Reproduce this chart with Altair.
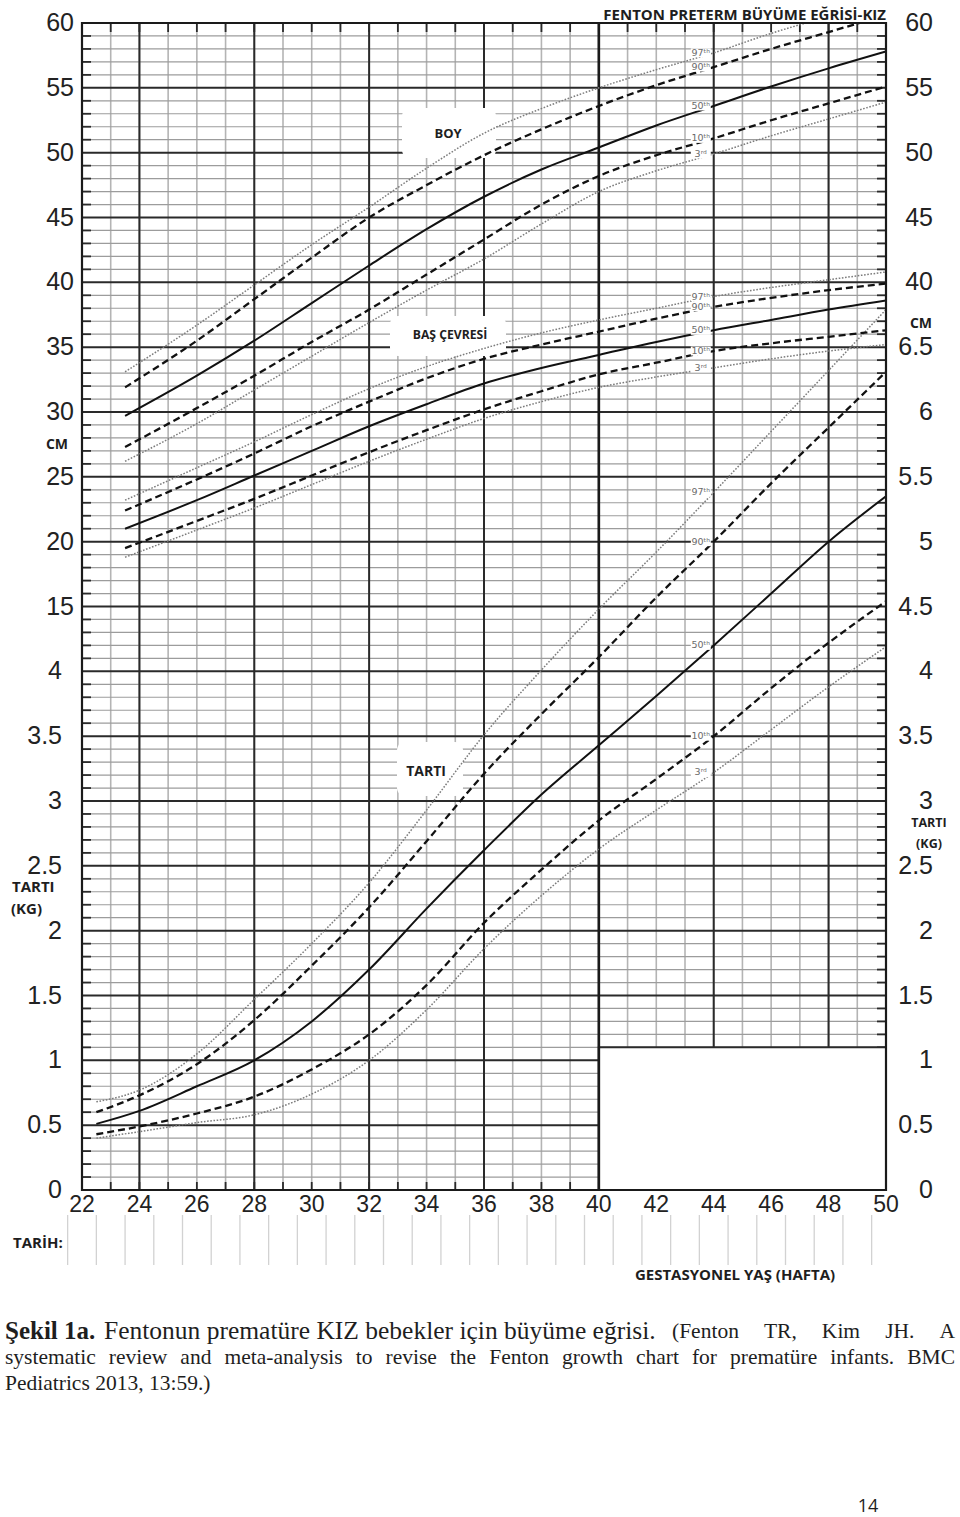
import altair as alt
import pandas as pd

# ---------------- data ----------------
weight_weeks = [22.5, 24, 26, 28, 30, 32, 34, 36, 38, 40, 42, 44, 46, 48, 50]
weight_p97 = [0.68, 0.77, 1.05, 1.47, 1.90, 2.37, 2.93, 3.51, 4.01, 4.48, 4.92, 5.38, 5.85, 6.32, 6.79]
weight_p90 = [0.60, 0.73, 0.97, 1.31, 1.73, 2.18, 2.69, 3.21, 3.67, 4.11, 4.57, 5.00, 5.45, 5.88, 6.31]
weight_p50 = [0.51, 0.61, 0.80, 1.00, 1.30, 1.70, 2.17, 2.62, 3.05, 3.43, 3.81, 4.20, 4.60, 5.00, 5.35]
weight_p10 = [0.43, 0.49, 0.59, 0.72, 0.93, 1.20, 1.58, 2.06, 2.47, 2.85, 3.17, 3.50, 3.87, 4.22, 4.54]
weight_p3 = [0.40, 0.45, 0.52, 0.58, 0.74, 1.00, 1.39, 1.86, 2.27, 2.63, 2.93, 3.22, 3.55, 3.88, 4.19]

length_weeks = [23.5, 26, 28, 30, 32, 34, 36, 38, 40, 42, 44, 46, 48, 50]
length_p97 = [33.1, 36.7, 39.8, 42.9, 45.8, 48.8, 51.5, 53.4, 55.0, 56.4, 57.7, 59.2, 60.5, 61.7]
length_p90 = [31.9, 35.5, 38.7, 41.9, 45.0, 47.5, 49.8, 51.8, 53.6, 55.2, 56.6, 58.0, 59.3, 60.6]
length_p50 = [29.7, 32.8, 35.5, 38.4, 41.3, 44.1, 46.6, 48.7, 50.4, 52.1, 53.6, 55.1, 56.5, 57.8]
length_p10 = [27.3, 30.3, 32.8, 35.4, 37.9, 40.6, 43.3, 46.0, 48.2, 49.8, 51.1, 52.5, 53.8, 55.1]
length_p3 = [26.2, 29.1, 31.7, 34.3, 36.9, 39.4, 41.8, 44.5, 47.0, 48.6, 49.9, 51.3, 52.6, 53.9]

hc_weeks = [23.5, 26, 28, 30, 32, 34, 36, 38, 40, 42, 44, 46, 48, 50]
hc_p97 = [23.2, 25.7, 27.7, 29.8, 31.8, 33.5, 34.9, 36.1, 37.1, 38.0, 38.9, 39.6, 40.2, 40.8]
hc_p90 = [22.4, 24.8, 26.8, 28.9, 30.8, 32.6, 34.1, 35.2, 36.2, 37.2, 38.1, 38.8, 39.4, 39.9]
hc_p50 = [21.0, 23.2, 25.1, 27.0, 28.9, 30.6, 32.2, 33.4, 34.4, 35.4, 36.3, 37.1, 37.9, 38.6]
hc_p10 = [19.5, 21.6, 23.3, 25.1, 26.9, 28.6, 30.2, 31.6, 32.9, 33.8, 34.7, 35.3, 35.8, 36.3]
hc_p3 = [18.8, 20.9, 22.6, 24.4, 26.2, 27.9, 29.5, 30.8, 31.9, 32.7, 33.4, 34.1, 34.7, 35.2]

left_kg_labels = ["0", "0.5", "1", "1.5", "2", "2.5", "3", "3.5", "4"]
left_cm_labels = ["15", "20", "25", "30", "35", "40", "45", "50", "55", "60"]
right_tick_labels = ["0", "0.5", "1", "1.5", "2", "2.5", "3", "3.5", "4",
                     "4.5", "5", "5.5", "6", "6.5", "40", "45", "50", "55", "60"]
week_labels = [22, 24, 26, 28, 30, 32, 34, 36, 38, 40, 42, 44, 46, 48, 50]
pct_names = ["97", "90", "50", "10", "3"]
pct_texts = ["97ᵗʰ", "90ᵗʰ", "50ᵗʰ", "10ᵗʰ", "3ʳᵈ"]

caption_bold = "Şekil 1a."
caption_title = "Fentonun prematüre KIZ bebekler için büyüme eğrisi."
caption_ref1 = "(Fenton TR, Kim JH. A"
caption_line2 = "systematic review and meta-analysis to revise the Fenton growth chart for prematüre infants. BMC"
caption_line3 = "Pediatrics 2013, 13:59.)"

# ---------------- layout constants ----------------
W, H = 804, 1167
OX, OY = 82, 23


def rx(px):
    return px - OX


def ry(py):
    return py - OY


xs = alt.Scale(domain=[22, 50], nice=False, zero=False)
ys = alt.Scale(domain=[0, 18], nice=False, zero=False)

# ---------------- curve table ----------------
series = [
    ("weight", "kg", weight_weeks, [weight_p97, weight_p90, weight_p50, weight_p10, weight_p3]),
    ("length", "cm", length_weeks, [length_p97, length_p90, length_p50, length_p10, length_p3]),
    ("hc", "cm", hc_weeks, [hc_p97, hc_p90, hc_p50, hc_p10, hc_p3]),
]
rows = []
lab_rows = []
for meas, unit, wks, vals in series:
    for pname, ptxt, v in zip(pct_names, pct_texts, vals):
        for w, val in zip(wks, v):
            rows.append({"measure": meas, "unit": unit, "pct": pname, "week": w, "value": val})
        i44 = wks.index(44)
        lab_rows.append({"measure": meas, "unit": unit, "pct": pname, "label": ptxt,
                         "week": 43.55, "value": v[i44]})
curves = pd.DataFrame(rows)
plabels = pd.DataFrame(lab_rows)
POS = "datum.unit == 'kg' ? datum.value * 2 : datum.value / 5 + 6"

X = alt.X("week:Q", scale=xs, axis=None)
Y = alt.Y("pos:Q", scale=ys, axis=None)

layers = []

# ---------------- grid ----------------
all_weeks = list(range(22, 51))
major_weeks = [24, 28, 32, 36, 40, 44, 48]
major_idx = list(range(19))
minor_idx = [i / 5 for i in range(91) if i % 5]

layers.append(alt.Chart(pd.DataFrame({"w": all_weeks})).mark_rule(color="#b4b4b4", strokeWidth=1.6).encode(
    x=alt.X("w:Q", scale=xs, axis=None), y=alt.value(0), y2=alt.value(H)))
layers.append(alt.Chart(pd.DataFrame({"i": minor_idx})).mark_rule(color="#9c9c9c", strokeWidth=1.2).encode(
    y=alt.Y("i:Q", scale=ys, axis=None), x=alt.value(0), x2=alt.value(W)))
layers.append(alt.Chart(pd.DataFrame({"i": major_idx})).mark_rule(color="#2a2a2a", strokeWidth=2).encode(
    y=alt.Y("i:Q", scale=ys, axis=None), x=alt.value(0), x2=alt.value(W)))
layers.append(alt.Chart(pd.DataFrame({"w": major_weeks})).mark_rule(color="#2a2a2a", strokeWidth=2).encode(
    x=alt.X("w:Q", scale=xs, axis=None), y=alt.value(0), y2=alt.value(H)))

# inner ticks on the frame
tk = dict(color="#2a2a2a", strokeWidth=1.8)
layers.append(alt.Chart(pd.DataFrame({"i": minor_idx})).mark_rule(**tk).encode(
    y=alt.Y("i:Q", scale=ys, axis=None), x=alt.value(0), x2=alt.value(9)))
layers.append(alt.Chart(pd.DataFrame({"i": minor_idx})).mark_rule(**tk).encode(
    y=alt.Y("i:Q", scale=ys, axis=None), x=alt.value(W - 9), x2=alt.value(W)))
layers.append(alt.Chart(pd.DataFrame({"w": all_weeks})).mark_rule(**tk).encode(
    x=alt.X("w:Q", scale=xs, axis=None), y=alt.value(0), y2=alt.value(9)))
layers.append(alt.Chart(pd.DataFrame({"w": all_weeks})).mark_rule(**tk).encode(
    x=alt.X("w:Q", scale=xs, axis=None), y=alt.value(H - 8), y2=alt.value(H)))

# blank box, lower right
box = pd.DataFrame({"w1": [40], "w2": [50], "p1": [0], "p2": [2.2]})
layers.append(alt.Chart(box).mark_rect(fill="white", stroke="#2a2a2a", strokeWidth=2).encode(
    x=alt.X("w1:Q", scale=xs, axis=None), x2="w2:Q",
    y=alt.Y("p1:Q", scale=ys, axis=None), y2="p2:Q"))
layers.append(alt.Chart(pd.DataFrame({"w": [40]})).mark_rule(color="#1a1a1a", strokeWidth=2.6).encode(
    x=alt.X("w:Q", scale=xs, axis=None), y=alt.value(0), y2=alt.value(H)))


def white_box(x1, y1, x2, y2):
    return alt.Chart(pd.DataFrame({"a": [0]})).mark_rect(fill="white", cornerRadius=8).encode(
        x=alt.value(rx(x1)), x2=alt.value(rx(x2)), y=alt.value(ry(y1)), y2=alt.value(ry(y2)))


layers.append(white_box(402, 108, 496, 158))
layers.append(white_box(390, 316, 506, 356))
layers.append(white_box(397, 742, 463, 796))

# ---------------- curves ----------------
styles = {
    "97": dict(color="#7c7c7c", strokeWidth=1.5, strokeDash=[1.6, 1.6]),
    "90": dict(color="#111111", strokeWidth=2.3, strokeDash=[7, 4]),
    "50": dict(color="#111111", strokeWidth=2.0),
    "10": dict(color="#111111", strokeWidth=2.3, strokeDash=[7, 4]),
    "3": dict(color="#7c7c7c", strokeWidth=1.5, strokeDash=[1.6, 1.6]),
}
for p in pct_names:
    layers.append(
        alt.Chart(curves).transform_filter(f"datum.pct == '{p}'").transform_calculate(pos=POS)
        .mark_line(interpolate="monotone", clip=True, **styles[p])
        .encode(x=X, y=Y, detail="measure:N", order="week:Q"))

# percentile labels
layers.append(alt.Chart(plabels).transform_calculate(pos=POS).mark_point(
    shape="M-1,-0.45L1,-0.45L1,0.45L-1,0.45Z", filled=True, color="white", opacity=1, size=400).encode(x=X, y=Y))
layers.append(alt.Chart(plabels).transform_calculate(pos=POS).mark_text(
    fontSize=9.5, font="DejaVu Sans", color="#6a6a6a", align="center", baseline="middle").encode(
    x=X, y=Y, text="label:N"))

# frame
layers.append(alt.Chart(pd.DataFrame({"a": [0]})).mark_rect(fillOpacity=0, stroke="#1a1a1a", strokeWidth=2.2).encode(
    x=alt.value(0), x2=alt.value(W), y=alt.value(0), y2=alt.value(H)))

# ---------------- tick labels ----------------
lab_style = dict(fontSize=25, font="Liberation Sans", color="#222222", align="right", baseline="middle")
kdf = pd.DataFrame({"i": list(range(len(left_kg_labels))), "lab": left_kg_labels})
layers.append(alt.Chart(kdf).mark_text(**lab_style).encode(
    y=alt.Y("i:Q", scale=ys, axis=None), x=alt.value(rx(62)), text="lab:N"))
cdf = pd.DataFrame({"i": list(range(9, 9 + len(left_cm_labels))), "lab": left_cm_labels})
layers.append(alt.Chart(cdf).mark_text(**lab_style).encode(
    y=alt.Y("i:Q", scale=ys, axis=None), x=alt.value(rx(74)), text="lab:N"))
rdf = pd.DataFrame({"i": major_idx, "lab": right_tick_labels})
layers.append(alt.Chart(rdf).mark_text(**lab_style).encode(
    y=alt.Y("i:Q", scale=ys, axis=None), x=alt.value(rx(933)), text="lab:N"))
bdf = pd.DataFrame({"w": week_labels, "lab": [str(w) for w in week_labels]})
layers.append(alt.Chart(bdf).mark_text(fontSize=23, font="Liberation Sans", color="#222222",
                                       align="center", baseline="middle").encode(
    x=alt.X("w:Q", scale=xs, axis=None), y=alt.value(ry(1205)), text="lab:N"))

# date-entry lines under the axis
half_weeks = [w + 0.5 for w in range(21, 50)]
layers.append(alt.Chart(pd.DataFrame({"w": half_weeks})).mark_rule(color="#d2d2d2", strokeWidth=1.3).encode(
    x=alt.X("w:Q", scale=xs, axis=None), y=alt.value(ry(1215)), y2=alt.value(ry(1265))))


# ---------------- annotations ----------------
def txt(s, px, py, size, font="Open Sans", weight="bold", align="left", color="#1e1e1e", baseline="middle"):
    return alt.Chart(pd.DataFrame({"t": [s]})).mark_text(
        font=font, fontSize=size, fontWeight=weight, align=align, baseline=baseline, color=color).encode(
        x=alt.value(rx(px)), y=alt.value(ry(py)), text="t:N")


layers += [
    txt("FENTON PRETERM BÜYÜME  EĞRİSİ-KIZ", 886, 15, 15, align="right"),
    txt("BOY", 448, 134, 13, align="center"),
    txt("BAŞ ÇEVRESİ", 450, 335, 12.2, align="center"),
    txt("TARTI", 426, 772, 14, align="center"),
    txt("CM", 57, 445, 14, align="center"),
    txt("TARTI", 12, 887, 15),
    txt("(KG)", 11, 909, 15),
    txt("CM", 921, 324, 14, align="center"),
    txt("TARTI", 929, 823, 12.5, align="center"),
    txt("(KG)", 929, 844, 12.5, align="center"),
    txt("TARİH:", 13, 1243, 15),
    txt("GESTASYONEL YAŞ (HAFTA)", 735, 1275, 15, align="center"),
    txt("14", 868, 1507, 18, font="Open Sans", weight="normal", align="center"),
    txt(caption_bold, 5, 1331, 25, font="Liberation Serif", weight="bold"),
    txt(caption_title, 104, 1331, 25.5, font="Liberation Serif", weight="normal"),
    txt(caption_line3, 5, 1384, 21.5, font="Liberation Serif", weight="normal"),
]

# justified caption parts (Times-like advance widths, em units)
cw = {"a": .444, "b": .5, "c": .444, "ç": .444, "d": .5, "e": .444, "f": .333, "g": .5, "ğ": .5, "h": .5,
      "i": .278, "j": .278, "k": .5, "l": .278, "m": .778, "n": .5, "o": .5, "p": .5, "q": .5, "r": .333,
      "s": .389, "t": .278, "u": .5, "ü": .5, "v": .5, "w": .722, "x": .5, "y": .5, "z": .444,
      ".": .25, "-": .333, ",": .25, ":": .278, "(": .333, ")": .333, "1": .5,
      "A": .722, "B": .667, "M": .889, "C": .667, "F": .556, "T": .611, "R": .667, "Ş": .556,
      "K": .722, "J": .389, "H": .722, "I": .333, "Z": .611}


def justify(text, x0, x1, py, fs):
    words = text.split(" ")
    widths = [sum(cw.get(c, .5) for c in wd) * fs for wd in words]
    gap = (x1 - x0 - sum(widths)) / max(len(words) - 1, 1)
    out = []
    xpos = float(x0)
    for wd, wdt in zip(words, widths):
        out.append(txt(wd, xpos, py, fs, font="Liberation Serif", weight="normal"))
        xpos += wdt + gap
    return out


layers += justify(caption_ref1, 672, 955, 1332, 21.5)
layers += justify(caption_line2, 5, 955, 1358, 21.5)

chart = alt.layer(*layers).properties(
    width=W, height=H,
    padding={"left": OX, "top": OY, "right": 960 - OX - W, "bottom": 1517 - OY - H},
    autosize=alt.AutoSizeParams(type="none"),
    background="white",
).configure_view(strokeWidth=0)

chart.save("out.html", embed_options={"renderer": "svg", "actions": False})
